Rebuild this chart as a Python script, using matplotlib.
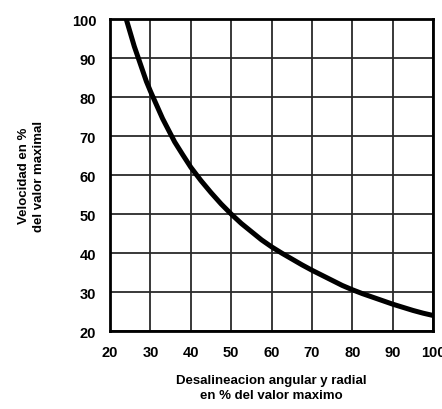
import matplotlib
matplotlib.use("Agg")
import matplotlib.pyplot as plt

# curva
desalineacion = [24, 25, 26, 27, 28, 29, 30, 31.5, 33, 34.5, 36, 38, 40, 42.5, 45, 47.5, 50,
                 52.5, 55, 57.5, 60, 62.5, 65, 67.5, 70, 72.5, 75, 77.5, 80, 82.5, 85, 87.5,
                 90, 92.5, 95, 97.5, 100]
velocidad = [100, 96.5, 93, 90, 87, 84, 81.5, 78, 74.5, 71.5, 68.5, 65.2, 62, 58.6, 55.5, 52.6, 50,
             47.6, 45.5, 43.4, 41.6, 40, 38.5, 37, 35.6, 34.3, 33, 31.7, 30.6, 29.6, 28.7, 27.8,
             26.9, 26.1, 25.3, 24.6, 24]

x_ticks = [20, 30, 40, 50, 60, 70, 80, 90, 100]
y_ticks = [20, 30, 40, 50, 60, 70, 80, 90, 100]

plt.rcParams['font.family'] = ['Liberation Sans', 'DejaVu Sans']

fig = plt.figure(figsize=(4.42, 4.10), dpi=100)
ax = fig.add_axes([0.249, 0.19, 0.731, 0.761])

ax.plot(desalineacion, velocidad, color='black', lw=3.6, solid_joinstyle='round', zorder=3)

ax.set_xlim(20, 100)
ax.set_ylim(20, 100)
ax.set_xticks(x_ticks)
ax.set_yticks(y_ticks)
ax.grid(True, color='#2a2a2a', lw=1.3)
ax.tick_params(length=0, pad=10, labelsize=10.5)
for lbl in ax.get_xticklabels() + ax.get_yticklabels():
    lbl.set_fontweight('bold')
for sp in ax.spines.values():
    sp.set_linewidth(2)
    sp.set_zorder(4)

ax.set_xlabel('Desalineacion angular y radial\nen % del valor maximo',
              fontsize=9.5, fontweight='bold', labelpad=11, linespacing=1.35)
ax.set_ylabel('Velocidad en %\ndel valor maximal',
              fontsize=9.5, fontweight='bold', labelpad=19, linespacing=1.4)

fig.savefig('out.png', dpi=100)
